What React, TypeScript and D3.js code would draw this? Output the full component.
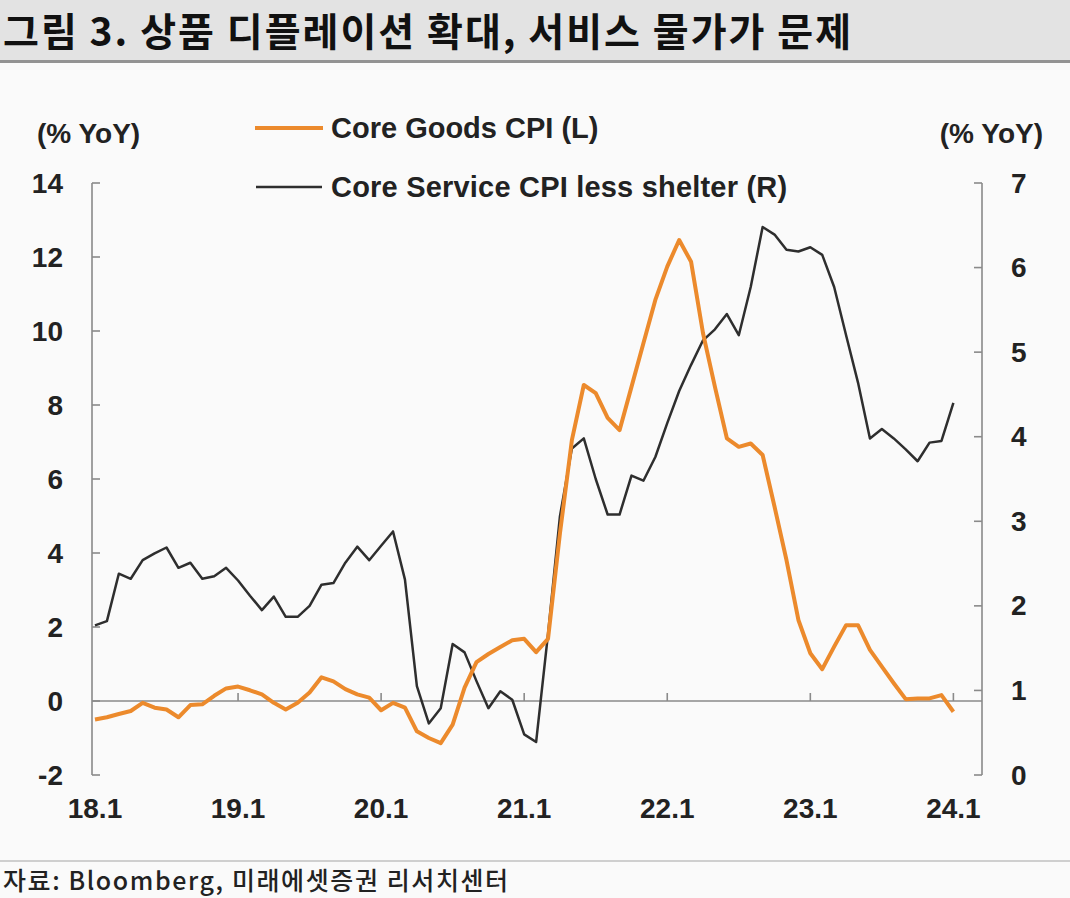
import React from 'react';
import * as d3 from 'd3';

// monthly, 2018.1 ~ 2024.1
const coreGoods = [
  -0.5, -0.44, -0.35, -0.27, -0.05, -0.18, -0.23, -0.44, -0.11, -0.09, 0.14, 0.34,
  0.39, 0.29, 0.18, -0.05, -0.23, -0.05, 0.23, 0.64, 0.53, 0.32, 0.18, 0.09,
  -0.25, -0.05, -0.18, -0.82, -1.0, -1.14, -0.64, 0.36, 1.05, 1.27, 1.46, 1.64,
  1.68, 1.32, 1.68, 4.53, 7.05, 8.54, 8.32, 7.65, 7.32, 8.49, 9.67, 10.84,
  11.74, 12.46, 11.87, 9.94, 8.49, 7.1, 6.87, 6.96, 6.65, 5.25, 3.81, 2.19,
  1.29, 0.86, 1.47, 2.05, 2.05, 1.38, 0.93, 0.48, 0.05, 0.07, 0.07, 0.16,
  -0.29,
];

const coreServiceExShelter = [
  1.77, 1.82, 2.38, 2.32, 2.54, 2.62, 2.69, 2.45, 2.51, 2.32, 2.35, 2.45,
  2.3, 2.12, 1.95, 2.11, 1.87, 1.87, 2.0, 2.25, 2.27, 2.51, 2.7, 2.54,
  2.71, 2.88, 2.31, 1.05, 0.61, 0.79, 1.55, 1.45, 1.11, 0.79, 0.99, 0.89,
  0.48, 0.39, 1.67, 3.06, 3.86, 3.98, 3.5, 3.08, 3.08, 3.54, 3.48, 3.76,
  4.16, 4.54, 4.85, 5.14, 5.27, 5.45, 5.2, 5.77, 6.48, 6.39, 6.21, 6.19,
  6.24, 6.15, 5.77, 5.2, 4.64, 3.98, 4.09, 3.98, 3.85, 3.71, 3.93, 3.95,
  4.4,
];

const yearLabels = ['18.1', '19.1', '20.1', '21.1', '22.1', '23.1', '24.1'];
const leftTicks = [-2, 0, 2, 4, 6, 8, 10, 12, 14];
const rightTicks = [0, 1, 2, 3, 4, 5, 6, 7];

const W = 1070;
const H = 898;
const ORANGE = '#ec8a2c';
const DARK = '#2e2e2e';
const AXIS = '#8a8a8a';
const FONT = '"Liberation Sans", Arial, sans-serif';
const KFONT = '"Noto Sans CJK KR", "Noto Sans", sans-serif';

const App: React.FC = () => {
  const x = d3.scaleLinear().domain([-0.25, 74.4]).range([92, 982]);
  const yL = d3.scaleLinear().domain([-2, 14]).range([775, 183]);
  const yR = d3.scaleLinear().domain([0, 7]).range([775, 183]);

  const goodsLine = d3.line<number>()
    .x((_, i) => x(i))
    .y(d => yL(d));
  const serviceLine = d3.line<number>()
    .x((_, i) => x(i))
    .y(d => yR(d));

  const left = x.range()[0];
  const right = x.range()[1];
  const zeroY = yL(0);

  return (
    <div style={{ position: 'fixed', left: 0, top: 0 }}>
      <svg width={W} height={H} style={{ display: 'block' }}>
        <rect width={W} height={H} fill="#fafafa" />

        {/* title band */}
        <rect x={0} y={0} width={W} height={61} fill="#e3e3e3" />
        <rect x={0} y={60} width={W} height={3} fill="#939393" />
        <text x={3} y={46} fontFamily={KFONT} fontWeight={700} fontSize={39} letterSpacing={2} fill="#111">
          그림 3. 상품 디플레이션 확대, 서비스 물가가 문제
        </text>

        {/* units */}
        <text x={37} y={133} dominantBaseline="central" fontFamily={FONT} fontWeight={700} fontSize={28} fill="#222">(% YoY)</text>
        <text x={1043} y={133} textAnchor="end" dominantBaseline="central" fontFamily={FONT} fontWeight={700} fontSize={28} fill="#222">(% YoY)</text>

        {/* legend */}
        <line x1={255} x2={323} y1={128} y2={128} stroke={ORANGE} strokeWidth={4} />
        <text x={331} y={128} dominantBaseline="central" fontFamily={FONT} fontWeight={700} fontSize={29} fill="#222">Core Goods CPI (L)</text>
        <line x1={256} x2={322} y1={187} y2={187} stroke={DARK} strokeWidth={2.5} />
        <text x={331} y={187} dominantBaseline="central" fontFamily={FONT} fontWeight={700} fontSize={29} letterSpacing={0.2} fill="#222">Core Service CPI less shelter (R)</text>

        {/* left axis */}
        <line x1={left} x2={left} y1={yL(14)} y2={yL(-2)} stroke={AXIS} strokeWidth={1.6} />
        {leftTicks.map(t => (
          <g key={`l${t}`}>
            <line x1={left} x2={left + 8} y1={yL(t)} y2={yL(t)} stroke={AXIS} strokeWidth={1.6} />
            <text x={63} y={yL(t)} textAnchor="end" dominantBaseline="central" fontFamily={FONT} fontWeight={700} fontSize={28} fill="#222">{t}</text>
          </g>
        ))}

        {/* right axis */}
        <line x1={right} x2={right} y1={yR(7)} y2={yR(0)} stroke={AXIS} strokeWidth={1.6} />
        {rightTicks.map(t => (
          <g key={`r${t}`}>
            <line x1={right - 8} x2={right} y1={yR(t)} y2={yR(t)} stroke={AXIS} strokeWidth={1.6} />
            <text x={1011} y={yR(t)} dominantBaseline="central" fontFamily={FONT} fontWeight={700} fontSize={28} fill="#222">{t}</text>
          </g>
        ))}

        {/* zero line with year ticks */}
        <line x1={left} x2={right} y1={zeroY} y2={zeroY} stroke={AXIS} strokeWidth={1.6} />
        {yearLabels.map((lab, i) => (
          <g key={lab}>
            {i > 0 && <line x1={x(i * 12)} x2={x(i * 12)} y1={zeroY} y2={zeroY - 8} stroke={AXIS} strokeWidth={1.6} />}
            <text x={x(i * 12)} y={808} textAnchor="middle" dominantBaseline="central" fontFamily={FONT} fontWeight={700} fontSize={28} fill="#222">{lab}</text>
          </g>
        ))}

        {/* series */}
        <path d={serviceLine(coreServiceExShelter) ?? ''} fill="none" stroke={DARK} strokeWidth={2.5} strokeLinejoin="round" />
        <path d={goodsLine(coreGoods) ?? ''} fill="none" stroke={ORANGE} strokeWidth={4} strokeLinejoin="round" />

        {/* footer */}
        <line x1={0} x2={W} y1={861} y2={861} stroke="#cfcfcf" strokeWidth={2} />
        <text x={3} y={890} fontFamily={KFONT} fontWeight={500} fontSize={25} letterSpacing={1.6} fill="#222">
          자료: Bloomberg, 미래에셋증권 리서치센터
        </text>
      </svg>
    </div>
  );
};

export default App;
